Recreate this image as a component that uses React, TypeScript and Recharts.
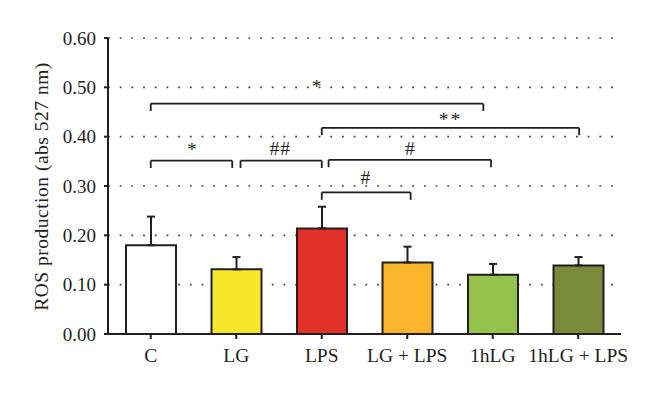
import React from 'react';
import { BarChart, Bar, XAxis, YAxis, CartesianGrid, Cell, ErrorBar, ReferenceLine, ReferenceDot } from 'recharts';

const categories = ['C', 'LG', 'LPS', 'LG + LPS', '1hLG', '1hLG + LPS'];
const means = [0.18, 0.131, 0.214, 0.145, 0.12, 0.139];
const sems = [0.058, 0.025, 0.044, 0.032, 0.022, 0.017];
const colors = ['#ffffff', '#f6e72a', '#e2312b', '#fbb52b', '#95c24b', '#7a8a3a'];
const yTicks = [0, 0.1, 0.2, 0.3, 0.4, 0.5, 0.6];

// significance brackets: positions in category-index units and data units
const bracketX1 = [0, 2, 0, 1.05, 2.08, 2];
const bracketX2 = [3.89, 5.01, 0.953, 2, 3.98, 3.04];
const bracketY = [0.467, 0.418, 0.3515, 0.3515, 0.353, 0.287];
const bracketLabels = ['*', '**', '*', '##', '#', '#'];
const labelX = [1.94, 3.505, 0.48, 1.516, 3.03, 2.51];
const labelY = [0.488, 0.4207, 0.36, 0.363, 0.363, 0.304];
const tickDepth = 0.015;

const data = categories.map((name, i) => ({
  name,
  idx: i,
  value: means[i],
  err: [0, sems[i]],
}));

const FONT = '"Liberation Serif", "DejaVu Serif", serif';
const INK = '#231f20';

const YLabel = () => (
  <text
    x={41.7}
    y={186.5}
    transform="rotate(-90 41.7 186.5)"
    textAnchor="middle"
    dominantBaseline="central"
    fontFamily={FONT}
    fontSize={19.5}
    letterSpacing={0.5}
    fill={INK}
  >
    ROS production (abs 527 nm)
  </text>
);

export default function App() {
  return (
    <div style={{ position: 'absolute', left: 0, top: 0, background: '#fff' }}>
      <BarChart
        width={660}
        height={395}
        data={data}
        margin={{ top: 38, right: 39, bottom: 31, left: 0 }}
        barSize={50}
      >
        <CartesianGrid
          horizontal
          vertical={false}
          stroke="#444"
          strokeWidth={1.6}
          strokeDasharray="1.8 9.9"
          yAxisId="y"
          xAxisId="cat"
        />
        <XAxis
          xAxisId="cat"
          dataKey="name"
          height={30}
          axisLine={{ stroke: INK, strokeWidth: 2 }}
          tickLine={{ stroke: INK, strokeWidth: 2 }}
          tickSize={5}
          tickMargin={9}
          interval={0}
          tick={{ fontFamily: FONT, fontSize: 19.5, fill: INK }}
        />
        <XAxis
          xAxisId="num"
          dataKey="idx"
          type="number"
          domain={[-0.5, 5.5]}
          allowDataOverflow
          hide
        />
        <YAxis
          yAxisId="y"
          width={108}
          domain={[0, 0.6]}
          ticks={yTicks}
          interval={0}
          tickFormatter={(v: number) => v.toFixed(2)}
          axisLine={{ stroke: INK, strokeWidth: 2 }}
          tickLine={{ stroke: INK, strokeWidth: 2 }}
          tickSize={4}
          tickMargin={8}
          tick={{ fontFamily: FONT, fontSize: 19, fill: INK }}
          label={<YLabel />}
        />
        <Bar
          dataKey="value"
          xAxisId="cat"
          yAxisId="y"
          stroke={INK}
          strokeWidth={2}
          isAnimationActive={false}
        >
          {data.map((d, i) => (
            <Cell key={d.name} fill={colors[i]} />
          ))}
          <ErrorBar dataKey="err" width={4} stroke={INK} strokeWidth={2} direction="y" />
        </Bar>
        {bracketY.map((y, i) => (
          <ReferenceLine
            key={`h${i}`}
            xAxisId="num"
            yAxisId="y"
            segment={[{ x: bracketX1[i], y }, { x: bracketX2[i], y }]}
            stroke={INK}
            strokeWidth={1.8}
          />
        ))}
        {bracketY.map((y, i) => (
          <ReferenceLine
            key={`l${i}`}
            xAxisId="num"
            yAxisId="y"
            segment={[{ x: bracketX1[i], y }, { x: bracketX1[i], y: y - tickDepth }]}
            stroke={INK}
            strokeWidth={1.8}
          />
        ))}
        {bracketY.map((y, i) => (
          <ReferenceLine
            key={`r${i}`}
            xAxisId="num"
            yAxisId="y"
            segment={[{ x: bracketX2[i], y }, { x: bracketX2[i], y: y - tickDepth }]}
            stroke={INK}
            strokeWidth={1.8}
          />
        ))}
        {bracketLabels.map((t, i) => (
          <ReferenceDot
            key={`t${i}`}
            xAxisId="num"
            yAxisId="y"
            x={labelX[i]}
            y={labelY[i]}
            r={0}
            shape={(p: any) => (
              <text
                x={p.cx}
                y={p.cy}
                textAnchor="middle"
                fontFamily={FONT}
                fontSize={19.5}
                letterSpacing={t === '**' ? 2 : t === '##' ? 1 : 0}
                fill={INK}
              >
                {t}
              </text>
            )}
          />
        ))}
      </BarChart>
    </div>
  );
}
